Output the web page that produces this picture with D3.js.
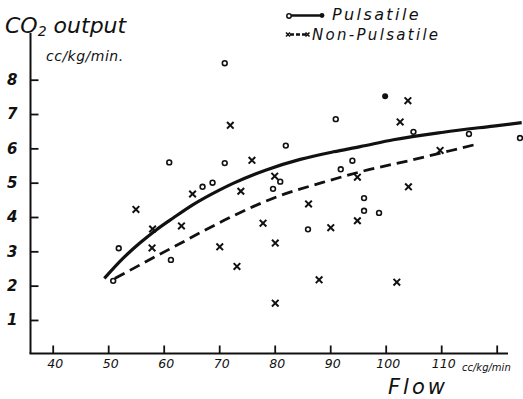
<!DOCTYPE html>
<html><head><meta charset="utf-8">
<script src="https://cdn.jsdelivr.net/npm/d3@7"></script>
<style>
body{margin:0;background:#fff}
text{font-family:"DejaVu Sans",sans-serif;font-style:italic;fill:#111}
</style></head>
<body><svg id="c" width="523" height="399"></svg>
<script>
// Data (flow cc/kg/min, CO2 output cc/kg/min)
const pulsatileFlow = [50.9,51.9,61.0,61.3,67.0,68.8,71.0,71.0,79.7,81.0,82.0,86.0,91.0,91.9,94.0,96.1,96.1,98.8,105.0,115.0,124.2];
const pulsatileCO2  = [2.14,3.09,5.59,2.75,4.88,5.00,8.48,5.57,4.82,5.03,6.08,3.64,6.85,5.39,5.64,4.55,4.18,4.12,6.48,6.42,6.30];
const pulsatileFilledFlow = [99.9];
const pulsatileFilledCO2  = [7.52];
const nonPulsatileFlow = [55.0,58.0,57.9,63.2,65.2,70.1,72.0,73.2,73.9,75.9,77.9,80.0,80.1,80.1,86.1,88.0,90.1,94.9,94.9,102.0,102.6,104.0,104.1,109.8];
const nonPulsatileCO2  = [4.22,3.65,3.10,3.74,4.67,3.13,6.67,2.56,4.75,5.65,3.82,5.19,3.24,1.49,4.38,2.17,3.69,5.16,3.89,2.10,6.77,7.39,4.88,5.94];
const pulsatileCurveFlow = [49.3,52.7,55.7,58.7,61.7,65.3,70.1,72.5,78.6,84.6,90.6,95.4,101.4,110.4,119.4,124.5];
const pulsatileCurveCO2  = [2.21,2.80,3.24,3.63,3.97,4.36,4.79,4.98,5.38,5.68,5.90,6.05,6.25,6.47,6.65,6.75];
const nonPulsatileCurveFlow = [51.2,61.7,72.5,80.4,88.5,96.0,104.7,111.6,116.4];
const nonPulsatileCurveCO2  = [2.21,3.12,4.03,4.59,5.00,5.34,5.66,5.93,6.12];
const xTicks = [40,50,60,70,80,90,100,110,120];
const yTicks = [1,2,3,4,5,6,7,8];

const svg = d3.select("#c");
const x = d3.scaleLinear().domain([40,120]).range([52.7,496.7]);
const y = d3.scaleLinear().domain([0,8]).range([354.3,79.7]);

// axes lines
svg.append("line").attr("x1",30.5).attr("x2",30.5).attr("y1",33).attr("y2",353.5).attr("stroke","#111").attr("stroke-width",2);
svg.append("line").attr("x1",29.5).attr("x2",508).attr("y1",353.5).attr("y2",353.5).attr("stroke","#111").attr("stroke-width",2);

const yAxis = svg.append("g").attr("transform","translate(30.5,0)")
  .call(d3.axisLeft(y).tickValues(yTicks).tickSize(-8).tickSizeOuter(0).tickPadding(13));
yAxis.select(".domain").remove();
yAxis.selectAll(".tick line").attr("stroke","#111").attr("stroke-width",1.8);
yAxis.selectAll(".tick text").attr("font-size",15).attr("font-weight","bold").attr("font-family","DejaVu Sans").attr("fill","#111");

const xAxis = svg.append("g").attr("transform","translate(0,353.5)")
  .call(d3.axisBottom(x).tickValues(xTicks).tickSize(-8).tickSizeOuter(0).tickPadding(6)
    .tickFormat(v => v < 120 ? v : ""));
xAxis.select(".domain").remove();
xAxis.selectAll(".tick line").attr("stroke","#111").attr("stroke-width",1.8);
xAxis.selectAll(".tick text").attr("font-size",12.5).attr("font-family","DejaVu Sans").attr("fill","#111").attr("dx",2);

// curves
const line = d3.line().x(d=>x(d[0])).y(d=>y(d[1])).curve(d3.curveMonotoneX);
svg.append("path").datum(d3.zip(pulsatileCurveFlow,pulsatileCurveCO2)).attr("d",line)
  .attr("fill","none").attr("stroke","#111").attr("stroke-width",3.2);
svg.append("path").datum(d3.zip(nonPulsatileCurveFlow,nonPulsatileCurveCO2)).attr("d",line)
  .attr("fill","none").attr("stroke","#111").attr("stroke-width",2.8).attr("stroke-dasharray","11,6");

// points
svg.append("g").selectAll("circle").data(d3.zip(pulsatileFlow,pulsatileCO2)).join("circle")
  .attr("cx",d=>x(d[0])).attr("cy",d=>y(d[1])).attr("r",2.4)
  .attr("fill","#fff").attr("stroke","#111").attr("stroke-width",1.6);
svg.append("g").selectAll("circle").data(d3.zip(pulsatileFilledFlow,pulsatileFilledCO2)).join("circle")
  .attr("cx",d=>x(d[0])).attr("cy",d=>y(d[1])).attr("r",3).attr("fill","#111");
const cross = "M-3.3,-3.3L3.3,3.3M3.3,-3.3L-3.3,3.3";
svg.append("g").selectAll("path").data(d3.zip(nonPulsatileFlow,nonPulsatileCO2)).join("path")
  .attr("transform",d=>`translate(${x(d[0])},${y(d[1])})`).attr("d",cross)
  .attr("stroke","#111").attr("stroke-width",2).attr("fill","none");

// titles
svg.append("text").attr("x",5).attr("y",33).attr("font-size",22).text("CO")
  .append("tspan").attr("font-size",14).attr("dy",3).text("2")
  .append("tspan").attr("font-size",22).attr("dy",-3).text(" output");
svg.append("text").attr("x",46).attr("y",61).attr("font-size",14).attr("letter-spacing",0.5).text("cc/kg/min.");
svg.append("text").attr("x",388).attr("y",394).attr("font-size",21).attr("font-family","Liberation Sans").attr("letter-spacing",3).text("Flow");
svg.append("text").attr("x",462).attr("y",371).attr("font-size",10).text("cc/kg/min");

// legend
svg.append("line").attr("x1",289).attr("x2",322).attr("y1",15.5).attr("y2",15.5).attr("stroke","#111").attr("stroke-width",2.5);
svg.append("circle").attr("cx",289).attr("cy",16).attr("r",2.2).attr("fill","#fff").attr("stroke","#111").attr("stroke-width",1.5);
svg.append("circle").attr("cx",322).attr("cy",15.5).attr("r",2.4).attr("fill","#111");
svg.append("text").attr("x",332).attr("y",20).attr("font-size",16).attr("letter-spacing",2.4).text("Pulsatile");
svg.append("line").attr("x1",290).attr("x2",306).attr("y1",34.5).attr("y2",34.5).attr("stroke","#111").attr("stroke-width",2.5).attr("stroke-dasharray","4,2");
svg.append("path").attr("transform","translate(288,34.5)").attr("d","M-2,-2L2,2M2,-2L-2,2").attr("stroke","#111").attr("stroke-width",1.6);
svg.append("path").attr("transform","translate(307.5,34.5)").attr("d","M-2,-2L2,2M2,-2L-2,2").attr("stroke","#111").attr("stroke-width",1.6);
svg.append("text").attr("x",312).attr("y",40).attr("font-size",15).attr("letter-spacing",2.3).text("Non-Pulsatile");
</script></body></html>
